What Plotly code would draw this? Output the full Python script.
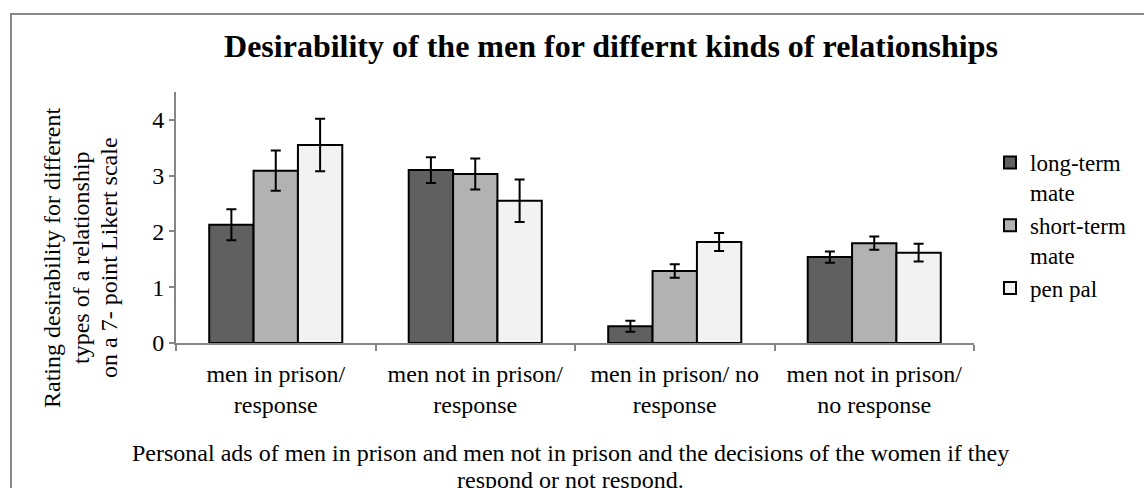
import plotly.graph_objects as go

# ---- data ----
categories = [
    "men in prison/<br>response",
    "men not in prison/<br>response",
    "men in prison/ no<br>response",
    "men not in prison/<br>no response",
]
series_names = ["long-term<br>mate", "short-term<br>mate", "pen pal"]
long_term = [2.12, 3.10, 0.30, 1.54]
long_term_err = [0.28, 0.23, 0.10, 0.10]
short_term = [3.09, 3.03, 1.29, 1.79]
short_term_err = [0.36, 0.28, 0.12, 0.12]
pen_pal = [3.55, 2.55, 1.81, 1.62]
pen_pal_err = [0.47, 0.38, 0.16, 0.16]
y_ticks = [0, 1, 2, 3, 4]
y_title_lines = ["Rating desirability for different",
                 "types of a relationship",
                 "on a 7- point Likert scale"]
x_title_lines = ["Personal ads of men in prison and men not in prison and the decisions of the women if they",
                 "respond or not respond."]

colors = ["#606060", "#b2b2b2", "#f2f2f2"]
FONT = "Liberation Serif"

W, H = 1144, 488
ML, MR, MT, MB = 176, 170, 92, 145
PW, PH = W - ML - MR, H - MT - MB


def px_x(x):
    return (x - ML) / PW


def px_y(y):
    return (H - MB - y) / PH


fig = go.Figure()
for name, vals, errs, col in zip(
    series_names,
    [long_term, short_term, pen_pal],
    [long_term_err, short_term_err, pen_pal_err],
    colors,
):
    fig.add_trace(
        go.Bar(
            name=name,
            x=categories,
            y=vals,
            marker=dict(color=col, line=dict(color="black", width=2)),
            error_y=dict(type="data", array=errs, visible=True,
                         color="black", thickness=2, width=5),
        )
    )

fig.update_layout(
    width=W,
    height=H,
    margin=dict(l=ML, r=MR, t=MT, b=MB),
    paper_bgcolor="white",
    plot_bgcolor="white",
    barmode="group",
    bargap=0.333,
    bargroupgap=0,
    font=dict(family=FONT, size=24, color="black"),
    title=dict(
        text="<b>Desirability of the men for differnt kinds of relationships</b>",
        x=611 / W, xanchor="center",
        y=1 - 46 / H, yanchor="middle",
        font=dict(family=FONT, size=32, color="black"),
    ),
    showlegend=True,
    legend=dict(
        x=px_x(990), xanchor="left",
        y=px_y(141), yanchor="top",
        font=dict(family=FONT, size=23, color="black"),
        valign="top",
        itemwidth=30,
        tracegroupgap=0,
        bgcolor="rgba(0,0,0,0)",
    ),
    xaxis=dict(
        showline=True, linecolor="#868686", linewidth=2,
        ticks="outside", tickson="boundaries", ticklen=6,
        tickcolor="#868686", tickwidth=2,
        showgrid=False,
        ticklabelstandoff=8,
        tickfont=dict(family=FONT, size=24, color="black"),
    ),
    yaxis=dict(
        range=[0, 4.5],
        tickvals=y_ticks,
        showline=True, linecolor="#868686", linewidth=2,
        ticks="outside", ticklen=5, tickcolor="#868686", tickwidth=2,
        showgrid=False, zeroline=False,
        tickfont=dict(family=FONT, size=24, color="black"),
    ),
)

# y-axis title, one annotation per line (centred lower than plot middle)
for line, xc in zip(y_title_lines, [52, 81, 109]):
    fig.add_annotation(
        text=line, xref="paper", yref="paper",
        x=px_x(xc), y=px_y(258),
        xanchor="center", yanchor="middle",
        textangle=-90, showarrow=False,
        font=dict(family=FONT, size=24, color="black"),
    )

# x-axis title, one annotation per line
for line, yc in zip(x_title_lines, [453, 480]):
    fig.add_annotation(
        text=line, xref="paper", yref="paper",
        x=px_x(570), y=px_y(yc),
        xanchor="center", yanchor="middle",
        showarrow=False,
        font=dict(family=FONT, size=24, color="black"),
    )

# outer chart border
fig.add_shape(
    type="rect", xref="paper", yref="paper",
    x0=px_x(11), x1=px_x(1150), y0=px_y(500), y1=px_y(14),
    line=dict(color="#888888", width=2), fillcolor="rgba(0,0,0,0)",
    layer="below",
)

fig.write_html(
    "out.html",
    config={"displayModeBar": False},
    post_script="document.body.style.margin='0px';document.body.style.overflow='hidden';",
)
